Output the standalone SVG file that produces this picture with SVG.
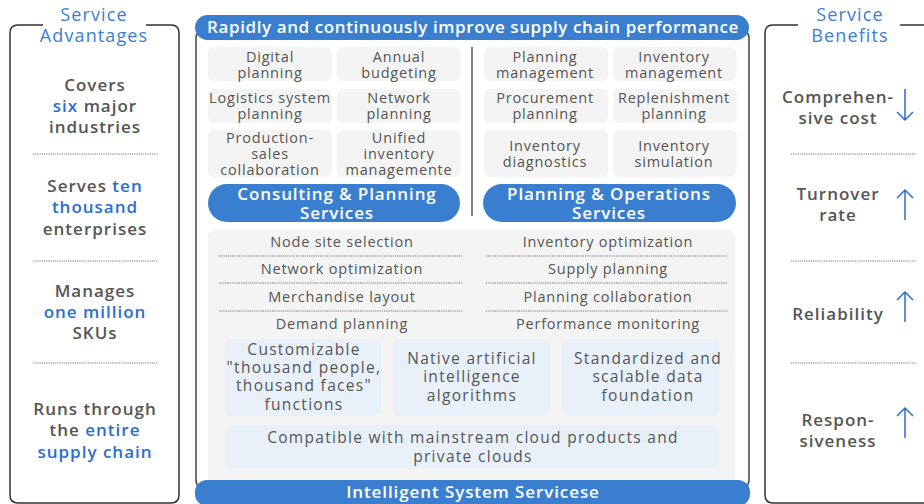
<svg xmlns="http://www.w3.org/2000/svg" width="924" height="504" viewBox="0 0 924 504">
<style>
text{font-family:"Open Sans","Noto Sans",sans-serif;text-anchor:middle}
.title{font-size:18px;fill:#3a7fd5;letter-spacing:1.1px}
.side{font-size:17px;font-weight:600;fill:#555;letter-spacing:1px}
.hl{fill:#2a6ed0}
.cell{fill:#f4f4f4}
.ct{font-size:14.5px;fill:#555;letter-spacing:0.8px}
.pill{fill:#3a7fcf}
.pt{font-size:17px;font-weight:600;fill:#fff;letter-spacing:0.9px}
.bt{letter-spacing:0.6px}
.lb{fill:#e8f0fa}
.lt{font-size:15.5px;fill:#555;letter-spacing:1.3px}
.dot{stroke:#666;stroke-width:0.9;stroke-dasharray:1.2 1;fill:none}
.frame{fill:none;stroke:#333;stroke-width:1.5}
.arrow{fill:none;stroke:#2a6ed0;stroke-width:1.5}
</style>

<g id="advantages">
<path class="frame" d="M43,25 H18 Q10,25 10,33 V495 Q10,503 18,503 H171 Q179,503 179,495 V33 Q179,25 171,25 H146"/>
<text class="title" x="94" y="21">Service</text>
<text class="title" x="94" y="42">Advantages</text>
<text class="side" x="95" y="91">Covers</text>
<text class="side" x="95" y="112"><tspan class="hl">six</tspan> major</text>
<text class="side" x="95" y="133">industries</text>
<line class="dot" x1="33" y1="154" x2="158" y2="154"/>
<text class="side" x="95" y="192">Serves <tspan class="hl">ten</tspan></text>
<text class="side hl" x="95" y="213">thousand</text>
<text class="side" x="95" y="235">enterprises</text>
<line class="dot" x1="33" y1="261" x2="158" y2="261"/>
<text class="side" x="95" y="297">Manages</text>
<text class="side hl" x="95" y="318">one million</text>
<text class="side" x="95" y="339">SKUs</text>
<line class="dot" x1="33" y1="363" x2="158" y2="363"/>
<text class="side" x="95" y="415">Runs through</text>
<text class="side" x="95" y="436">the <tspan class="hl">entire</tspan></text>
<text class="side hl" x="95" y="458">supply chain</text>
</g>

<g id="benefits">
<path class="frame" d="M798,25 H773 Q765,25 765,33 V495 Q765,503 773,503 H930 M900,25 H930"/>
<text class="title" x="850" y="21">Service</text>
<text class="title" x="850" y="42">Benefits</text>
<text class="side" x="838" y="103">Comprehen-</text>
<text class="side" x="838" y="124">sive cost</text>
<path class="arrow" d="M905,89 V120 M897,112 L905,120 L913,112"/>
<line class="dot" x1="791" y1="154" x2="916" y2="154"/>
<text class="side" x="838" y="200">Turnover</text>
<text class="side" x="838" y="221">rate</text>
<path class="arrow" d="M905,220 V190 M897,198 L905,190 L913,198"/>
<line class="dot" x1="791" y1="261" x2="916" y2="261"/>
<text class="side" x="838" y="320">Reliability</text>
<path class="arrow" d="M905,322 V292 M897,300 L905,292 L913,300"/>
<line class="dot" x1="791" y1="363" x2="916" y2="363"/>
<text class="side" x="838" y="426">Respon-</text>
<text class="side" x="838" y="447">siveness</text>
<path class="arrow" d="M905,438 V408 M897,416 L905,408 L913,416"/>
</g>

<g id="center-frame">
<rect x="196" y="28" width="553" height="462" rx="10" fill="none" stroke="#444" stroke-width="1.5"/>
</g>

<g id="consulting-cells">
<rect class="cell" x="208" y="47" width="124" height="34" rx="6"/>
<text class="ct" x="270" y="62">Digital</text><text class="ct" x="270" y="78">planning</text>
<rect class="cell" x="337" y="47" width="124" height="34" rx="6"/>
<text class="ct" x="399" y="62">Annual</text><text class="ct" x="399" y="78">budgeting</text>
<rect class="cell" x="208" y="89" width="124" height="34" rx="6"/>
<text class="ct" x="270" y="103">Logistics system</text><text class="ct" x="270" y="119">planning</text>
<rect class="cell" x="337" y="89" width="124" height="34" rx="6"/>
<text class="ct" x="399" y="103">Network</text><text class="ct" x="399" y="119">planning</text>
<rect class="cell" x="208" y="130" width="124" height="47" rx="6"/>
<text class="ct" x="270" y="143">Production-</text><text class="ct" x="270" y="159">sales</text><text class="ct" x="270" y="175">collaboration</text>
<rect class="cell" x="337" y="130" width="124" height="47" rx="6"/>
<text class="ct" x="399" y="143">Unified</text><text class="ct" x="399" y="159">inventory</text><text class="ct" x="399" y="175">managemente</text>
</g>

<g id="operations-cells">
<rect class="cell" x="484" y="47" width="124" height="34" rx="6"/>
<text class="ct" x="545" y="62">Planning</text><text class="ct" x="545" y="78">management</text>
<rect class="cell" x="613" y="47" width="124" height="34" rx="6"/>
<text class="ct" x="674" y="62">Inventory</text><text class="ct" x="674" y="78">management</text>
<rect class="cell" x="484" y="89" width="124" height="34" rx="6"/>
<text class="ct" x="545" y="103">Procurement</text><text class="ct" x="545" y="119">planning</text>
<rect class="cell" x="613" y="89" width="124" height="34" rx="6"/>
<text class="ct" x="674" y="103">Replenishment</text><text class="ct" x="674" y="119">planning</text>
<rect class="cell" x="484" y="130" width="124" height="47" rx="6"/>
<text class="ct" x="545" y="151">Inventory</text><text class="ct" x="545" y="167">diagnostics</text>
<rect class="cell" x="613" y="130" width="124" height="47" rx="6"/>
<text class="ct" x="674" y="151">Inventory</text><text class="ct" x="674" y="167">simulation</text>
</g>

<g id="consulting-pill">
<rect class="pill" x="208" y="184" width="252" height="38" rx="19"/>
<text class="pt" x="337" y="200">Consulting &amp; Planning</text>
<text class="pt" x="337" y="219">Services</text>
</g>
<g id="operations-pill">
<rect class="pill" x="483" y="184" width="253" height="38" rx="19"/>
<text class="pt" x="609" y="200">Planning &amp; Operations</text>
<text class="pt" x="609" y="219">Services</text>
</g>

<g id="system-panel">
<rect class="cell" x="208" y="229" width="527" height="262" rx="8"/>
<text class="ct" x="342" y="247">Node site selection</text>
<text class="ct" x="342" y="274">Network optimization</text>
<text class="ct" x="342" y="302">Merchandise layout</text>
<text class="ct" x="342" y="329">Demand planning</text>
<text class="ct" x="608" y="247">Inventory optimization</text>
<text class="ct" x="608" y="274">Supply planning</text>
<text class="ct" x="608" y="302">Planning collaboration</text>
<text class="ct" x="608" y="329">Performance monitoring</text>
</g>

<g id="feature-custom">
<rect class="lb" x="225" y="339" width="156" height="77" rx="8"/>
<text class="lt" x="304" y="355">Customizable</text>
<text class="lt" x="304" y="373">"thousand people,</text>
<text class="lt" x="304" y="391">thousand faces"</text>
<text class="lt" x="304" y="410">functions</text>
</g>
<g id="feature-ai">
<rect class="lb" x="393" y="339" width="157" height="77" rx="8"/>
<text class="lt" x="472" y="364">Native artificial</text>
<text class="lt" x="472" y="382">intelligence</text>
<text class="lt" x="472" y="401">algorithms</text>
</g>
<g id="feature-data">
<rect class="lb" x="562" y="339" width="157" height="77" rx="8"/>
<text class="lt" x="648" y="364">Standardized and</text>
<text class="lt" x="648" y="382">scalable data</text>
<text class="lt" x="648" y="401">foundation</text>
</g>
<g id="feature-cloud">
<rect class="lb" x="225" y="425" width="494" height="43" rx="8"/>
<text class="lt" x="473" y="443">Compatible with mainstream cloud products and</text>
<text class="lt" x="473" y="462">private clouds</text>
</g>

<g id="top-banner">
<rect class="pill" x="195" y="15" width="554" height="25" rx="12.5"/>
<text class="pt bt" x="473" y="33">Rapidly and continuously improve supply chain performance</text>
</g>
<g id="bottom-banner">
<rect class="pill" x="195" y="480" width="555" height="26" rx="12"/>
<text class="pt" x="473" y="498">Intelligent System Servicese</text>
</g>

<g id="connectors">
<line x1="472" y1="47" x2="472" y2="216" stroke="#555" stroke-width="1.5"/>
<line class="dot" x1="219" y1="256" x2="463" y2="256"/>
<line class="dot" x1="219" y1="283" x2="463" y2="283"/>
<line class="dot" x1="219" y1="311" x2="463" y2="311"/>
<line class="dot" x1="486" y1="256" x2="728" y2="256"/>
<line class="dot" x1="486" y1="283" x2="728" y2="283"/>
<line class="dot" x1="486" y1="311" x2="728" y2="311"/>
</g>
</svg>
